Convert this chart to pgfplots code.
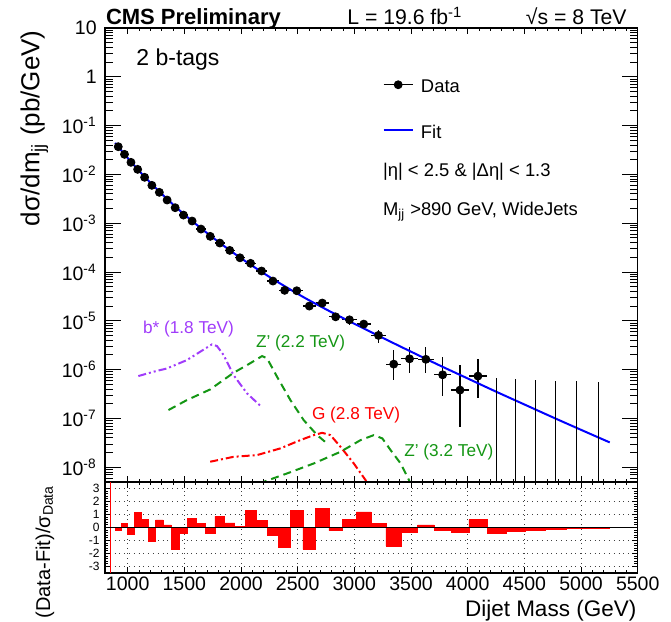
\documentclass[border=0pt]{standalone}
\usepackage{pgfplots}
\pgfplotsset{compat=1.18}
\usepackage{pgfplotstable}
\usepackage{fontspec}
\setmainfont{Liberation Sans}

\definecolor{bstar}{RGB}{160,60,250}
\definecolor{zgreen}{RGB}{20,150,20}
\definecolor{fitblue}{RGB}{0,0,255}

\pgfplotstableread{
m v ex ep em
917 0.0370 27 0.0002 0.0002
972 0.0258 28 0.0002 0.0002
1029 0.0177 29 0.0001 0.0001
1088 0.0127 30 0.0001 0.0001
1149.5 0.00873 31.5 0.00008 0.00008
1213.5 0.00598 32.5 0.00006 0.00006
1279.5 0.00430 33.5 0.00005 0.00005
1348 0.00299 35 0.00004 0.00004
1419 0.00208 36 0.00004 0.00004
1492.5 0.00147 37.5 0.00003 0.00003
1568.5 0.00111 38.5 0.00003 0.00003
1647 7.60e-4 40 2.2e-5 2.2e-5
1728.5 5.39e-4 41.5 1.8e-5 1.8e-5
1813 3.93e-4 43 1.5e-5 1.5e-5
1900.5 2.78e-4 44.5 1.25e-5 1.25e-5
1991 1.96e-4 46 1.0e-5 1.0e-5
2084.5 1.51e-4 47.5 9e-6 9e-6
2181.5 1.05e-4 49.5 7.4e-6 7.4e-6
2281.5 6.54e-5 50.5 5.7e-6 5.7e-6
2385 4.22e-5 53 4.5e-6 4.5e-6
2492 4.14e-5 54 4.4e-6 4.4e-6
2602.5 2.01e-5 56.5 3.0e-6 3.0e-6
2717 2.32e-5 58 3.2e-6 3.2e-6
2835 1.21e-5 60 2.3e-6 2.3e-6
2957 1.05e-5 62 2.1e-6 2.1e-6
3083 8.59e-6 64 1.9e-6 1.9e-6
3213 5.04e-6 66 1.56e-6 1.58e-6
3347.5 1.30e-6 68.5 1.22e-6 6.9e-7
3487 1.67e-6 71 1.28e-6 8.1e-7
3631 1.63e-6 73 1.27e-6 7.7e-7
3779 7.85e-7 75 1.06e-6 5.0e-7
3932 3.82e-7 78 8.4e-7 3.14e-7
4090.5 7.40e-7 80.5 9.3e-7 4.74e-7
}\datatab

\pgfplotstableread{
x r
890 -0.25
944 0.33
1000 -0.5
1058 1.16
1118 0.63
1181 -1.1
1246 0.58
1313 0.2
1383 -1.71
1455 -0.45
1530 0.68
1607 0.3
1687 -0.43
1770 0.86
1856 0.35
1945 0.1
2037 1.31
2132 0.53
2231 -0.6
2332 -1.54
2438 1.33
2546 -1.69
2659 1.46
2775 -0.25
2895 0.63
3019 1.2
3147 0.33
3279 -1.41
3416 -0.35
3558 0.2
3704 -0.23
3854 -0.35
4010 0.6
4171 -0.45
4337 -0.3
4509 -0.2
4686 -0.13
4869 -0.07
5058 -0.04
5253 0
}\ratiotab

\begin{document}
\begin{tikzpicture}
\useasboundingbox (0,0) rectangle (335.5pt,311pt);

% x ticks of the upper panel
\begin{axis}[
  at={(52.5pt,70pt)}, anchor=south west, scale only axis,
  width=266.35pt, height=227pt,
  xmin=800, xmax=5500, ymode=log, ymin=5e-9, ymax=10,
  ytick=\empty, xtick={1000,1500,...,5500}, minor x tick num=4,
  xticklabels={,,,,,,,,,},
  major tick length=3pt, minor tick length=1.6pt,
  tick style={black, line width=0.5pt},
  axis line style={line width=0.75pt},
]
\end{axis}

% upper panel
\begin{axis}[
  at={(52.5pt,70pt)}, anchor=south west, scale only axis,
  width=266.35pt, height=227pt,
  xmin=800, xmax=5500, ymode=log, ymin=5e-9, ymax=10,
  xtick=\empty,
  ytick={1e-8,1e-7,1e-6,1e-5,1e-4,1e-3,1e-2,1e-1,1,10},
  yticklabels={10\textsuperscript{-8},10\textsuperscript{-7},10\textsuperscript{-6},10\textsuperscript{-5},10\textsuperscript{-4},10\textsuperscript{-3},10\textsuperscript{-2},10\textsuperscript{-1},1,10},
  minor ytick={5e-9,6e-9,7e-9,8e-9,9e-9,
    2e-8,3e-8,4e-8,5e-8,6e-8,7e-8,8e-8,9e-8,
    2e-7,3e-7,4e-7,5e-7,6e-7,7e-7,8e-7,9e-7,
    2e-6,3e-6,4e-6,5e-6,6e-6,7e-6,8e-6,9e-6,
    2e-5,3e-5,4e-5,5e-5,6e-5,7e-5,8e-5,9e-5,
    2e-4,3e-4,4e-4,5e-4,6e-4,7e-4,8e-4,9e-4,
    2e-3,3e-3,4e-3,5e-3,6e-3,7e-3,8e-3,9e-3,
    0.02,0.03,0.04,0.05,0.06,0.07,0.08,0.09,
    0.2,0.3,0.4,0.5,0.6,0.7,0.8,0.9,
    2,3,4,5,6,7,8,9},
  major tick length=8pt, minor tick length=4pt,
  tick style={black, line width=0.5pt},
  axis line style={line width=0.75pt},
  yticklabel style={font=\fontsize{9.75}{11}\selectfont, inner sep=0pt, xshift=-4pt},
  legend cell align=left,
  legend style={at={(0.5213,0.8852)}, anchor=north west, draw=none, fill=none,
    inner sep=0pt, outer sep=0pt, row sep=14.65pt,
    nodes={inner sep=0pt},
    font=\fontsize{9.2}{10}\selectfont,
    /tikz/every odd column/.append style={column sep=3.65pt}},
]
\addplot[only marks, mark=*, mark size=2pt, black,
  legend image code/.code={\draw[black, line width=0.6pt] (0pt,1.6pt) -- (14.5pt,1.6pt);
    \fill[black] (7.25pt,1.6pt) circle (2pt);},
  error bars/.cd, x dir=both, x explicit, y dir=both, y explicit,
  error mark=none, error bar style={line width=0.6pt, black}]
  table[x=m, y=v, x error=ex, y error plus=ep, y error minus=em] {\datatab};
\addlegendentry{Data}
\addplot[fitblue, line width=1pt, smooth,
  legend image code/.code={\draw[fitblue, line width=1pt] (0pt,1.6pt) -- (14.5pt,1.6pt);}]
  coordinates {
 (890,4.43e-2) (917,3.70e-2) (1000,2.17e-2) (1100,1.19e-2) (1200,6.78e-3)
 (1300,4.00e-3) (1400,2.43e-3) (1500,1.51e-3) (1600,9.68e-4) (1700,6.31e-4)
 (1800,4.18e-4) (1900,2.81e-4) (2000,1.92e-4) (2100,1.34e-4) (2200,9.46e-5)
 (2300,6.76e-5) (2400,4.90e-5) (2500,3.58e-5) (2600,2.65e-5) (2700,1.99e-5)
 (2800,1.50e-5) (3000,8.71e-6) (3250,4.49e-6) (3500,2.34e-6) (3750,1.23e-6)
 (4000,6.61e-7) (4250,3.55e-7) (4500,1.94e-7) (4750,1.06e-7) (5000,5.86e-8)
 (5253,3.24e-8)};
\addlegendentry{Fit}
% empty bins
\addplot[black, line width=0.6pt, forget plot, unbounded coords=jump] coordinates {
 (4254,1e-9) (4254,6.6e-7) (4254,nan)
 (4423,1e-9) (4423,6.3e-7) (4423,nan)
 (4597,1e-9) (4597,6.1e-7) (4597,nan)
 (4777,1e-9) (4777,5.8e-7) (4777,nan)
 (4963,1e-9) (4963,5.8e-7) (4963,nan)
 (5155,1e-9) (5155,5.6e-7)};
% signals
\addplot[bstar, line width=1pt, forget plot, dash pattern=on 4pt off 1.5pt on 1pt off 1.5pt on 1pt off 1.5pt] coordinates {
 (1094,7.4e-7) (1227,9.06e-7) (1346,1.06e-6) (1522,1.57e-6) (1640,2.33e-6)
 (1743,3.30e-6) (1788,3.05e-6) (1846,2.0e-6) (1934,7.76e-7) (2053,3.27e-7) (2186,1.69e-7)};
\addplot[zgreen, line width=1pt, forget plot, dash pattern=on 4pt off 2.5pt] coordinates {
 (1360,1.49e-7) (1522,2.38e-7) (1728,3.94e-7) (1934,8.63e-7) (2053,1.24e-6)
 (2186,1.90e-6) (2230,1.71e-6) (2318,7.16e-7) (2436,2.38e-7) (2553,9.27e-8)
 (2672,4.57e-8) (2745,3.28e-8)};
\addplot[red, line width=1pt, forget plot, dash pattern=on 4pt off 1.5pt on 1pt off 1.5pt] coordinates {
 (1728,1.30e-8) (1934,1.64e-8) (2141,1.78e-8) (2347,2.44e-8) (2524,3.61e-8)
 (2642,4.57e-8) (2716,5.09e-8) (2789,4.57e-8) (2878,2.63e-8) (2995,1.20e-8)
 (3099,5.47e-9) (3161,2.7e-9)};
\addplot[zgreen, line width=1pt, forget plot, dash pattern=on 4pt off 2.5pt] coordinates {
 (2050,3.8e-9) (2200,5.05e-9) (2407,7.5e-9) (2642,1.20e-8) (2878,2.08e-8)
 (3055,3.61e-8) (3172,4.57e-8) (3247,3.91e-8) (3320,2.25e-8) (3408,1.20e-8)
 (3482,5.47e-9) (3514,3.4e-9)};
\end{axis}

% ratio panel
\begin{axis}[
  at={(52.5pt,24.5pt)}, anchor=south west, scale only axis,
  width=266.35pt, height=45.5pt,
  xmin=800, xmax=5500, ymin=-3.5, ymax=3.5,
  xtick={1000,1500,...,5500},
  xticklabels={1000,1500,2000,2500,3000,3500,4000,4500,5000,5500},
  minor x tick num=4,
  ytick={-3,-2,-1,0,1,2,3}, yticklabels={-3,-2,-1,0,1,2,3},
  minor y tick num=4,
  grid=major, major grid style={black!75, dotted, line width=0.5pt},
  major tick length=3pt, minor tick length=1.6pt,
  tick style={black, line width=0.5pt},
  axis line style={line width=0.75pt},
  xticklabel style={font=\fontsize{9.75}{11}\selectfont, inner sep=0pt, yshift=-1.9pt},
  yticklabel style={font=\fontsize{6}{7}\selectfont, inner sep=0pt, xshift=-2.5pt},
]
\addplot[ybar interval, fill=red, draw=red, line width=0.3pt] table[x=x, y=r] {\ratiotab};
\addplot[red, line width=0.4pt] coordinates {(850,-3.5) (850,3.5)};
\addplot[black, line width=0.6pt] coordinates {(800,0) (5500,0)};
\end{axis}

% texts
\node[anchor=base west, inner sep=0pt, font=\fontsize{11}{12}\selectfont\bfseries] at (52.8pt,298.5pt) {CMS Preliminary};
\node[anchor=base west, inner sep=0pt, font=\fontsize{10.6}{12}\selectfont] at (173.5pt,298.5pt) {L = 19.6 fb\textsuperscript{-1}};
\node[anchor=base east, inner sep=0pt, font=\fontsize{10.6}{12}\selectfont] at (313.5pt,298.5pt) {√s = 8 TeV};
\node[anchor=base west, inner sep=0pt, font=\fontsize{11.5}{12}\selectfont] at (68pt,278.15pt) {2 b-tags};
\node[anchor=west, inner sep=0pt, font=\fontsize{9.2}{10}\selectfont] at (191.35pt,225.15pt) {|η| < 2.5 \& |Δη| < 1.3};
\node[anchor=west, inner sep=0pt, font=\fontsize{9.2}{10}\selectfont] at (191.35pt,205.15pt) {M\textsubscript{jj} >890 GeV, WideJets};
\node[anchor=west, inner sep=0pt, text=bstar, font=\fontsize{8.6}{10}\selectfont] at (71.35pt,146.35pt) {b* (1.8 TeV)};
\node[anchor=west, inner sep=0pt, text=zgreen, font=\fontsize{8.6}{10}\selectfont] at (127.85pt,139.65pt) {Z' (2.2 TeV)};
\node[anchor=west, inner sep=0pt, text=red, font=\fontsize{8.6}{10}\selectfont] at (155.85pt,103.5pt) {G (2.8 TeV)};
\node[anchor=west, inner sep=0pt, text=zgreen, font=\fontsize{8.6}{10}\selectfont] at (202pt,85.15pt) {Z' (3.2 TeV)};
\node[rotate=90, anchor=base east, inner sep=0pt, font=\fontsize{13}{14}\selectfont] at (19.75pt,296pt) {dσ/dm\textsubscript{jj} (pb/GeV)};
\node[rotate=90, anchor=base east, inner sep=0pt, font=\fontsize{10}{11}\selectfont] at (25pt,68.5pt) {(Data-Fit)/σ\textsubscript{Data}};
\node[anchor=base east, inner sep=0pt, font=\fontsize{11.25}{12}\selectfont] at (318.35pt,2.65pt) {Dijet Mass (GeV)};
\end{tikzpicture}
\end{document}
